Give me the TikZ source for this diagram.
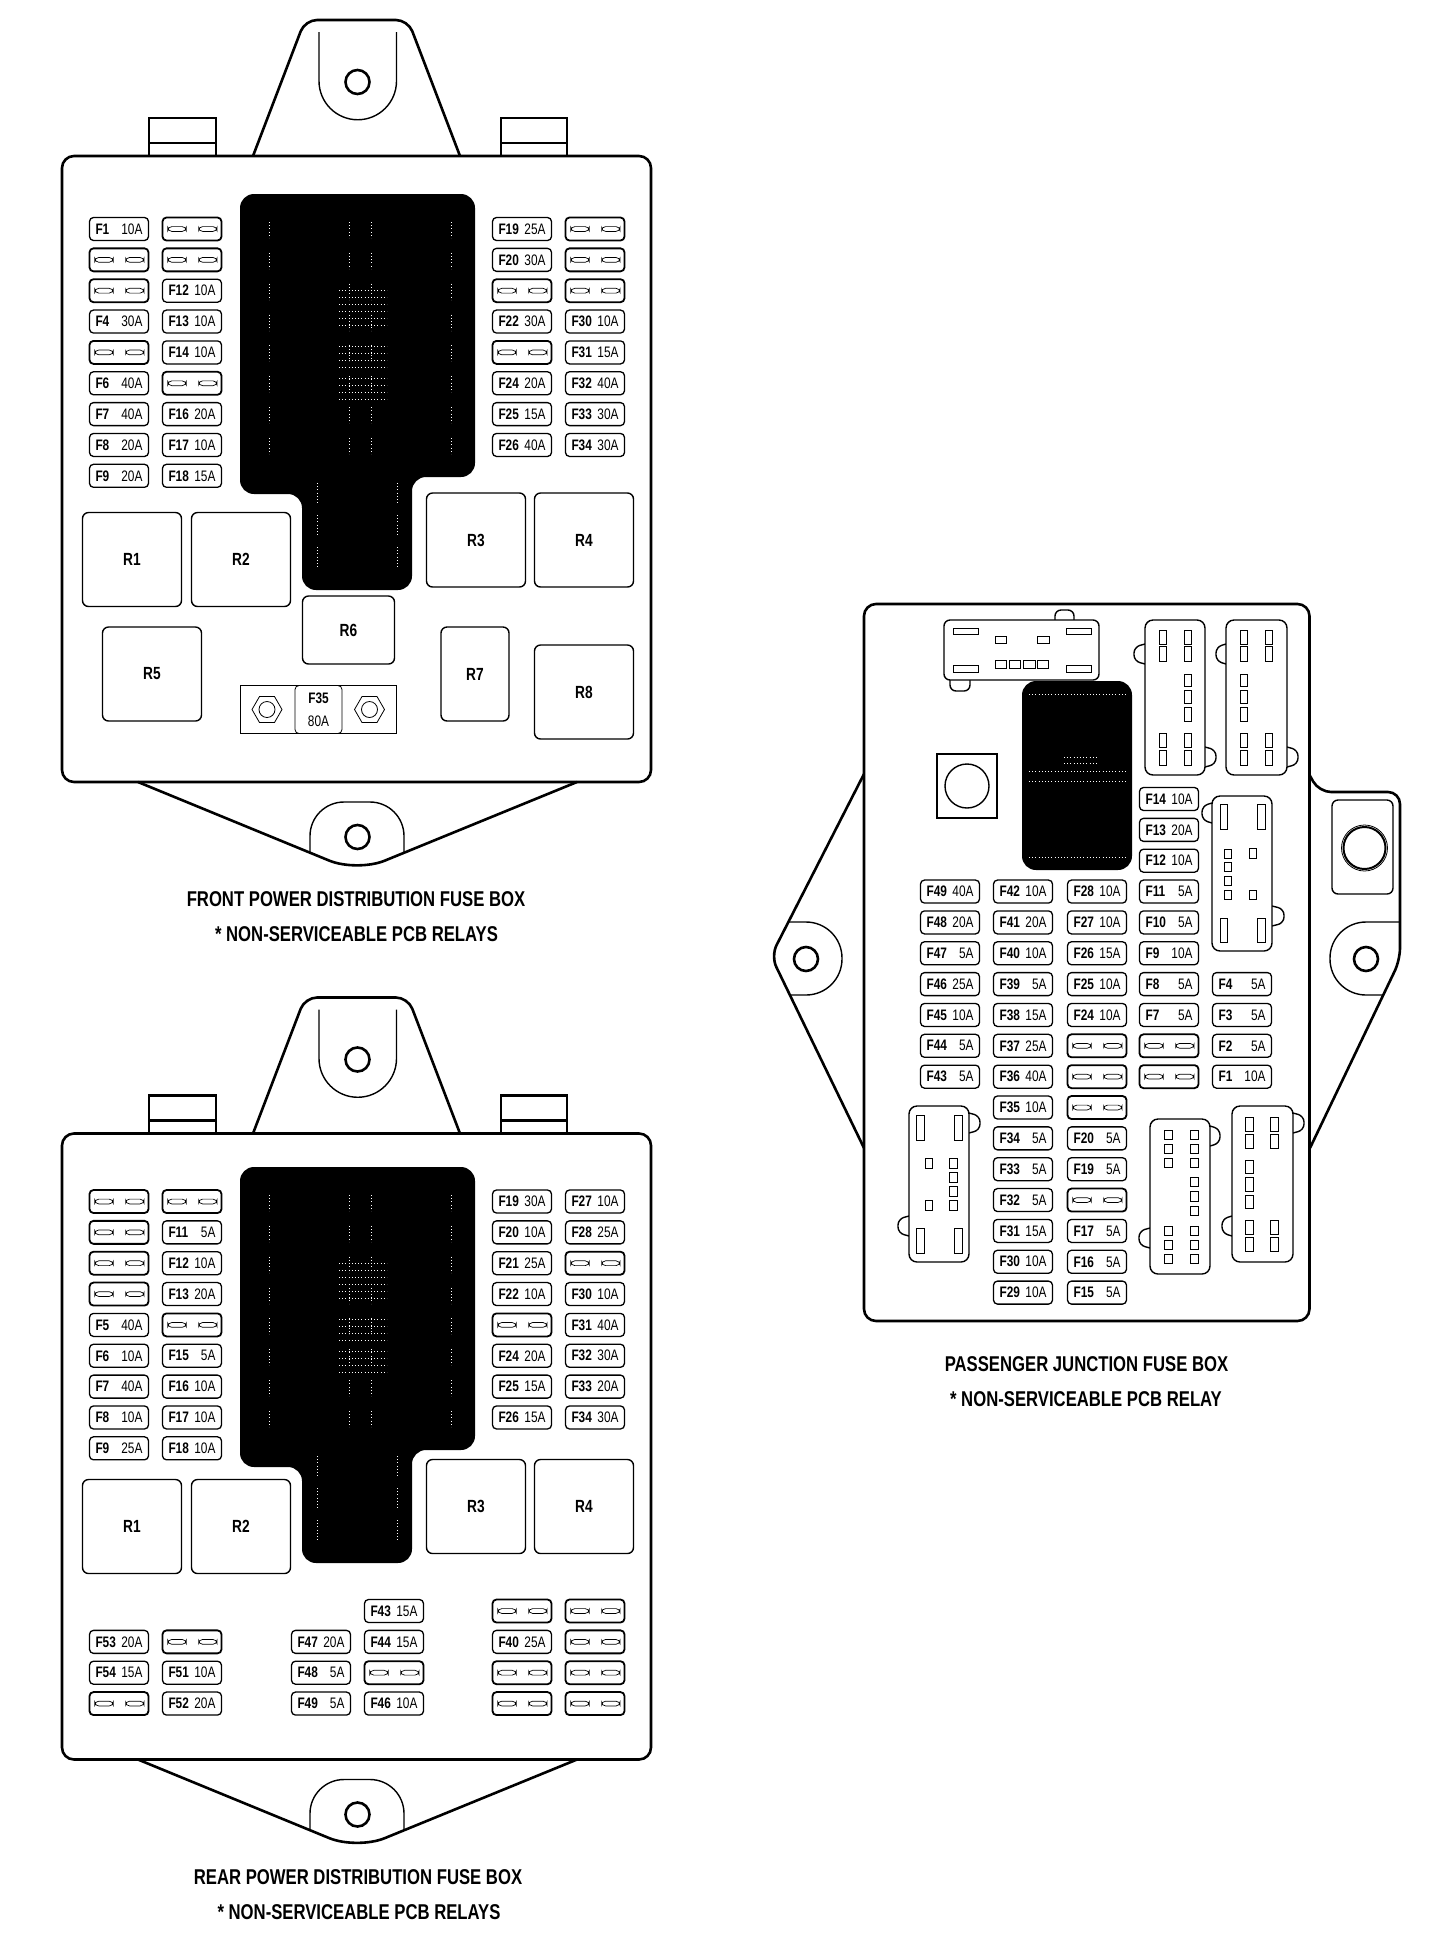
\documentclass[tikz,border=0pt]{standalone}
\usepackage{fontspec}
\usetikzlibrary{shapes.geometric}
\newfontfamily\fusefont[FakeStretch=0.78]{Liberation Sans}

\tikzset{
  boxline/.style={line width=1.3pt},
  thinline/.style={line width=0.7pt},
  slot/.style={line width=0.35pt},
  speck/.style={white,line width=0.35pt,dash pattern=on 0.4pt off 1.2pt},
  fuse/.style={draw,line width=0.65pt,rounded corners=2pt,minimum width=29.5pt,minimum height=11.5pt,
    inner sep=0pt,font=\fusefont\fontsize{7.6}{8}\selectfont},
  blankfuse/.style={fuse,line width=0.9pt,path picture={
    \draw[slot] ([xshift=-12.1pt,yshift=-1.2pt]path picture bounding box.center) rectangle ([xshift=-2.9pt,yshift=1.2pt]path picture bounding box.center);
    \draw[slot] ([xshift=3.3pt,yshift=-1.2pt]path picture bounding box.center) rectangle ([xshift=12.5pt,yshift=1.2pt]path picture bounding box.center);}},
  relay/.style={draw,thinline,rounded corners=3pt,inner sep=0pt,font=\fusefont\fontsize{8.8}{9}\selectfont\bfseries},
  nut/.style={draw,line width=0.4pt,regular polygon,regular polygon sides=6,minimum size=15pt,inner sep=0pt},
  caption/.style={font=\fusefont\fontsize{10.7}{11}\selectfont\bfseries,inner sep=0pt}
}

\newcommand{\fusetext}[2]{\makebox[23.5pt]{\textbf{#1}\hfill #2}}
\newcommand{\fuserows}[4]{\foreach \rw/\lab/\rating in {#4} \node[fuse] (#1\lab) at (#2,{#3+\rw*30.85}) {\fusetext{\lab}{\rating}};}
\newcommand{\blankrows}[4]{\foreach \rw in {#4} \node[blankfuse] (#1#2-\rw) at (#2,{#3+\rw*30.85}) {};}
\newcommand{\slotbox}[4]{\draw[slot] (#1,#2) rectangle (#3,#4);}

% outline shared by the two power boxes
\newcommand{\powershell}{
    \draw[boxline] (149,156) |- (216,118) -- (216,156);
    \draw[boxline] (149,143) -- (216,143);
    \draw[boxline] (501,156) |- (567,118) -- (567,156);
    \draw[boxline] (501,143) -- (567,143);
    \draw[boxline,rounded corners=6pt] (253,156) -- (305,20) -- (408,20) -- (460,156);
    \draw[thinline] (319,32) -- (319,81) arc[start angle=180,end angle=0,radius=38.75] -- (396.5,32);
    \draw[boxline] (357.5,82) circle (12);
    \draw[boxline,rounded corners=6pt] (62,156) rectangle (651,782);
    \draw[boxline,rounded corners=15pt] (138,782) -- (357,872) -- (577,782);
    \draw[thinline,rounded corners=17pt] (310,853) -- (310,802) -- (404,802) -- (404,853);
    \draw[boxline] (357.5,837) circle (12);
}
% black block with its specks
\newcommand{\powerblock}{
    \fill[rounded corners=7pt] (240,194) -- (475,194) -- (475,477) -- (412,477) -- (412,590)
      -- (302,590) -- (302,494) -- (240,494) -- cycle;
    \foreach \sx in {269,349,371,451} \foreach \rw in {0,...,7}
      \draw[speck] (\sx,{222+\rw*30.85}) -- (\sx,{238+\rw*30.85});
    \foreach \sx in {317,397} \foreach \rw in {0,1,2}
      \draw[speck] (\sx,{483+\rw*32}) -- (\sx,{505+\rw*32});
    \foreach \sy in {290,297,304,311,318,325,346,353,360,367,378,385,392,399}
      \draw[speck] (339,\sy) -- (387,\sy);
}

\begin{document}
\begin{tikzpicture}[x=0.5pt,y=-0.5pt]
    \path[fill=white] (0,0) rectangle (1440,1940);

    % Front power box
    \powershell
    \powerblock
    \fuserows{fa}{119}{229}{0/F1/10A,3/F4/30A,5/F6/40A,6/F7/40A,7/F8/20A,8/F9/20A}
    \blankrows{fb}{119}{229}{1,2,4}
    \fuserows{fa}{192}{229}{2/F12/10A,3/F13/10A,4/F14/10A,6/F16/20A,7/F17/10A,8/F18/15A}
    \blankrows{fb}{192}{229}{0,1,5}
    \fuserows{fa}{522}{229}{0/F19/25A,1/F20/30A,3/F22/30A,5/F24/20A,6/F25/15A,7/F26/40A}
    \blankrows{fb}{522}{229}{2,4}
    \fuserows{fa}{595}{229}{3/F30/10A,4/F31/15A,5/F32/40A,6/F33/30A,7/F34/30A}
    \blankrows{fb}{595}{229}{0,1,2}
    \node[relay,minimum width=49.5pt,minimum height=47pt] (fr1) at (132,559.5) {R1};
    \node[relay,minimum width=49.5pt,minimum height=47pt] (fr2) at (241,559.5) {R2};
    \node[relay,minimum width=49.5pt,minimum height=47pt] (fr3) at (476,540) {R3};
    \node[relay,minimum width=49.5pt,minimum height=47pt] (fr4) at (584,540) {R4};
    \node[relay,minimum width=49.5pt,minimum height=47pt] (fr5) at (152,674) {R5};
    \node[relay,minimum width=46pt,minimum height=34pt] (fr6) at (348.5,630) {R6};
    \node[relay,minimum width=34pt,minimum height=47pt] (fr7) at (475,674) {R7};
    \node[relay,minimum width=49.5pt,minimum height=47pt] (fr8) at (584,692) {R8};
    % F35 strip
    \draw[line width=0.4pt] (240,685.5) rectangle (396,733.5);
    \node[fuse,line width=0.4pt,minimum width=23.5pt,minimum height=24pt,align=center,font=\fusefont\fontsize{7.6}{11.5}\selectfont] (f35) at (318.5,709.5) {\textbf{F35}\\80A};
    \node[nut] (fn1) at (267,709.5) {};
    \node[nut] (fn2) at (369.5,709.5) {};
    \draw[line width=0.4pt] (267,709.5) circle (8) (369.5,709.5) circle (8);
    \node[caption] (fcap1) at (356,899.5) {FRONT POWER DISTRIBUTION FUSE BOX};
    \node[caption] (fcap2) at (356.5,934.5) {* NON-SERVICEABLE PCB RELAYS};

    % Rear power box
    \begin{scope}[shift={(0,977.5)}]
      \powershell
    \end{scope}
    \begin{scope}[shift={(0,973)}]
      \powerblock
    \end{scope}
    \fuserows{ra}{119}{1201.5}{4/F5/40A,5/F6/10A,6/F7/40A,7/F8/10A,8/F9/25A}
    \blankrows{rb}{119}{1201.5}{0,1,2,3}
    \fuserows{ra}{192}{1201.5}{1/F11/5A,2/F12/10A,3/F13/20A,5/F15/5A,6/F16/10A,7/F17/10A,8/F18/10A}
    \blankrows{rb}{192}{1201.5}{0,4}
    \fuserows{ra}{522}{1201.5}{0/F19/30A,1/F20/10A,2/F21/25A,3/F22/10A,5/F24/20A,6/F25/15A,7/F26/15A}
    \blankrows{rb}{522}{1201.5}{4}
    \fuserows{ra}{595}{1201.5}{0/F27/10A,1/F28/25A,3/F30/10A,4/F31/40A,5/F32/30A,6/F33/20A,7/F34/30A}
    \blankrows{rb}{595}{1201.5}{2}
    \node[relay,minimum width=49.5pt,minimum height=47pt] (rr1) at (132,1526.5) {R1};
    \node[relay,minimum width=49.5pt,minimum height=47pt] (rr2) at (241,1526.5) {R2};
    \node[relay,minimum width=49.5pt,minimum height=47pt] (rr3) at (476,1506.5) {R3};
    \node[relay,minimum width=49.5pt,minimum height=47pt] (rr4) at (584,1506.5) {R4};
    \fuserows{ra}{119}{1611}{1/F53/20A,2/F54/15A}
    \blankrows{rb}{119}{1611}{3}
    \fuserows{ra}{192}{1611}{2/F51/10A,3/F52/20A}
    \blankrows{rb}{192}{1611}{1}
    \fuserows{ra}{321}{1611}{1/F47/20A,2/F48/5A,3/F49/5A}
    \fuserows{ra}{394}{1611}{0/F43/15A,1/F44/15A,3/F46/10A}
    \blankrows{rb}{394}{1611}{2}
    \fuserows{ra}{522}{1611}{1/F40/25A}
    \blankrows{rc}{522}{1611}{0,2,3}
    \blankrows{rc}{595}{1611}{0,1,2,3}
    \node[caption] (rcap1) at (358,1877) {REAR POWER DISTRIBUTION FUSE BOX};
    \node[caption] (rcap2) at (359,1912) {* NON-SERVICEABLE PCB RELAYS};

    % Passenger box, flanges
    \draw[boxline,rounded corners=6pt] (864,774) -- (771,956) -- (864,1148);
    \draw[boxline,rounded corners=6pt] (1309,774) -- (1319,792) -- (1400,792) -- (1400,960) -- (1310,1148);
    \draw[thinline,rounded corners=18pt] (788,922) -- (842,922) -- (842,995) -- (790,995);
    \draw[thinline,rounded corners=18pt] (1400,922) -- (1330,922) -- (1330,995) -- (1384,995);
    \draw[boxline] (806,959) circle (12);
    \draw[boxline] (1366,959) circle (12);
    \draw[thinline,rounded corners=3pt] (1332,800) rectangle (1393,894);
    \draw[line width=1pt] (1364.5,848) circle (21);
    \draw[line width=0.4pt] (1364.5,848) circle (23);
    \draw[boxline,fill=white,rounded corners=6pt] (864,604) rectangle (1309.5,1321);

    % Passenger box, stud and block
    \draw[line width=1pt] (937,754) rectangle (997,818);
    \draw[thinline] (967,786) circle (22);
    \fill[rounded corners=7pt] (1022,681) rectangle (1132,870);
    \foreach \sy in {694,771,781,857}
      \draw[speck] (1029,\sy) -- (1126,\sy);
    \foreach \sy in {757,763} \draw[speck] (1064,\sy) -- (1099,\sy);

    % Passenger box, top connector
    \begin{scope}[shift={(-1,-1)}]
    \draw[thinline,rounded corners=3pt] (1056,625) -- (1056,611) -- (1075,611) -- (1075,625);
    \draw[thinline,rounded corners=3pt] (951,680) -- (951,692) -- (971,692) -- (971,680);
    \draw[thinline,fill=white,rounded corners=3pt] (945,621) rectangle (1100,681);
    \slotbox{954}{629}{979}{635} \slotbox{1067}{629}{1092}{635}
    \slotbox{954}{666}{979}{673} \slotbox{1067}{666}{1092}{673}
    \slotbox{996}{637}{1007}{644} \slotbox{1038}{637}{1050}{644}
    \slotbox{996}{661}{1007}{669} \slotbox{1010}{661}{1021}{669}
    \slotbox{1024}{661}{1036}{669} \slotbox{1038}{661}{1049}{669}
    \end{scope}

    % Passenger box, upper connectors
    \begin{scope}[shift={(-3,-1)}]
    \draw[thinline,rounded corners=3pt] (1148,645) -- (1137,648) -- (1137,662) -- (1148,665);
    \draw[thinline,rounded corners=3pt] (1208,748) -- (1219,751) -- (1219,765) -- (1208,768);
    \draw[thinline,fill=white,rounded corners=4pt] (1148,621) rectangle (1208,776);
    \foreach \sx in {1162,1187} {
      \slotbox{\sx}{631}{\sx+7.5}{645} \slotbox{\sx}{647}{\sx+7.5}{662}
      \slotbox{\sx}{734}{\sx+7.5}{748} \slotbox{\sx}{751}{\sx+7.5}{766}}
    \slotbox{1187}{675}{1194.5}{687} \slotbox{1187}{691}{1194.5}{704} \slotbox{1187}{708}{1194.5}{722}
    \draw[thinline,rounded corners=3pt] (1229,645) -- (1219,648) -- (1219,662) -- (1229,665);
    \draw[thinline,rounded corners=3pt] (1290,748) -- (1301,751) -- (1301,765) -- (1290,768);
    \draw[thinline,fill=white,rounded corners=4pt] (1229,621) rectangle (1290,776);
    \foreach \sx in {1243,1268} {
      \slotbox{\sx}{631}{\sx+7.5}{645} \slotbox{\sx}{647}{\sx+7.5}{662}
      \slotbox{\sx}{734}{\sx+7.5}{748} \slotbox{\sx}{751}{\sx+7.5}{766}}
    \slotbox{1243}{675}{1250.5}{687} \slotbox{1243}{691}{1250.5}{704} \slotbox{1243}{708}{1250.5}{722}

    % Passenger box, right connector
    \draw[thinline,rounded corners=3pt] (1215,804) -- (1205,807) -- (1205,821) -- (1215,824);
    \draw[thinline,rounded corners=3pt] (1275,907) -- (1287,910) -- (1287,924) -- (1275,927);
    \draw[thinline,fill=white,rounded corners=4pt] (1215,797) rectangle (1275,952);
    \foreach \sx in {1223,1260.5} {\slotbox{\sx}{805}{\sx+7.5}{830} \slotbox{\sx}{919}{\sx+7.5}{943}}
    \foreach \sy in {850,863,877,891} {\slotbox{1227.5}{\sy}{1234.5}{\sy+9.5}}
    \slotbox{1252.5}{849}{1259}{859} \slotbox{1252.5}{891}{1259}{900}
    \end{scope}

    % Passenger box, fuses
    \fuserows{pa}{950}{799}{3/F49/40A,4/F48/20A,5/F47/5A,6/F46/25A,7/F45/10A,8/F44/5A,9/F43/5A}
    \fuserows{pa}{1023}{799}{3/F42/10A,4/F41/20A,5/F40/10A,6/F39/5A,7/F38/15A,8/F37/25A,9/F36/40A,10/F35/10A,11/F34/5A,12/F33/5A,13/F32/5A,14/F31/15A,15/F30/10A,16/F29/10A}
    \fuserows{pa}{1097}{799}{3/F28/10A,4/F27/10A,5/F26/15A,6/F25/10A,7/F24/10A,11/F20/5A,12/F19/5A,14/F17/5A,15/F16/5A,16/F15/5A}
    \blankrows{pb}{1097}{799}{8,9,10,13}
    \fuserows{pa}{1169}{799}{0/F14/10A,1/F13/20A,2/F12/10A,3/F11/5A,4/F10/5A,5/F9/10A,6/F8/5A,7/F7/5A}
    \blankrows{pb}{1169}{799}{8,9}
    \fuserows{pa}{1242}{799}{6/F4/5A,7/F3/5A,8/F2/5A,9/F1/10A}

    % Passenger box, lower connectors
    \begin{scope}[shift={(-2,-1)}]
    \draw[thinline,rounded corners=3pt] (971,1114) -- (982,1117) -- (982,1131) -- (971,1134);
    \draw[thinline,rounded corners=3pt] (911,1217) -- (900,1220) -- (900,1234) -- (911,1237);
    \draw[thinline,fill=white,rounded corners=4pt] (911,1107) rectangle (971,1263);
    \foreach \sx in {918.5,956.5} {\slotbox{\sx}{1116}{\sx+7.5}{1141} \slotbox{\sx}{1229}{\sx+7.5}{1254}}
    \slotbox{927.5}{1159}{934.5}{1169} \slotbox{927.5}{1201}{934.5}{1211}
    \foreach \sy in {1159,1173,1187,1201} {\slotbox{951}{\sy}{959}{\sy+10}}
    \end{scope}

    \begin{scope}[shift={(-3,-1)}]
    \draw[thinline,rounded corners=3pt] (1213,1127) -- (1223,1130) -- (1223,1144) -- (1213,1147);
    \draw[thinline,rounded corners=3pt] (1153,1229) -- (1142,1232) -- (1142,1246) -- (1153,1249);
    \draw[thinline,fill=white,rounded corners=4pt] (1153,1120) rectangle (1213,1275);
    \foreach \sx in {1167.5,1193} {\foreach \sy in {1131,1145,1159,1227,1241,1255} {
      \slotbox{\sx}{\sy}{\sx+8}{\sy+9.5}}}
    \foreach \sy in {1178,1192.5,1207} {\slotbox{1193}{\sy}{1201}{\sy+9.5}}

    \draw[thinline,rounded corners=3pt] (1296,1114) -- (1307,1117) -- (1307,1131) -- (1296,1134);
    \draw[thinline,rounded corners=3pt] (1235,1217) -- (1225,1220) -- (1225,1234) -- (1235,1237);
    \draw[thinline,fill=white,rounded corners=4pt] (1235,1107) rectangle (1296,1263);
    \foreach \sx in {1248.5,1273.5} {
      \slotbox{\sx}{1118}{\sx+7.5}{1132} \slotbox{\sx}{1135}{\sx+7.5}{1149}
      \slotbox{\sx}{1221}{\sx+7.5}{1235} \slotbox{\sx}{1238}{\sx+7.5}{1252}}
    \slotbox{1248.5}{1161}{1256}{1174} \slotbox{1248.5}{1178}{1256}{1192} \slotbox{1248.5}{1196}{1256}{1209}
    \end{scope}

    \node[caption] (pcap1) at (1086.5,1364) {PASSENGER JUNCTION FUSE BOX};
    \node[caption] (pcap2) at (1086,1399) {* NON-SERVICEABLE PCB RELAY};
\end{tikzpicture}
\end{document}
